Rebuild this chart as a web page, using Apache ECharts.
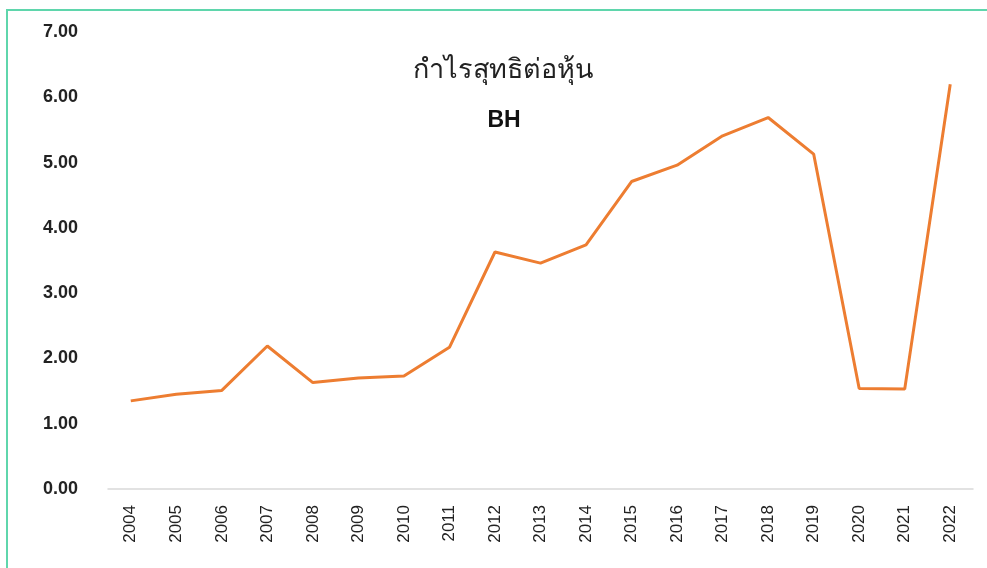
<!DOCTYPE html>
<html>
<head>
<meta charset="utf-8">
<script src="https://cdn.jsdelivr.net/npm/echarts@6/dist/echarts.min.js"></script>
<style>
  html, body { margin: 0; padding: 0; background: #fff; }
  .frame {
    position: absolute;
    left: 6px;
    top: 9px;
    width: 981px;
    height: 559px;
    border-left: 2px solid #5fd6ac;
    border-top: 2px solid #5fd6ac;
    box-sizing: border-box;
  }
  #chart { position: absolute; left: 0; top: 0; width: 987px; height: 568px; }
</style>
</head>
<body>
<div class="frame"></div>
<div id="chart"></div>
<script>
const years = ['2004', '2005', '2006', '2007', '2008', '2009', '2010', '2011', '2012', '2013',
  '2014', '2015', '2016', '2017', '2018', '2019', '2020', '2021', '2022']
const eps = [1.35, 1.45, 1.51, 2.19, 1.63, 1.70, 1.73, 2.17, 3.63, 3.46,
  3.74, 4.71, 4.96, 5.41, 5.69, 5.13, 1.54, 1.53, 6.20]
const titleText = 'กำไรสุทธิต่อหุ้น'
const subText = 'BH'

const chart = echarts.init(document.getElementById('chart'))
chart.setOption({
  animation: false,
  title: [
    {
      text: titleText,
      left: 498,
      textAlign: 'center',
      top: 52,
      textStyle: {
        fontFamily: 'Noto Sans, sans-serif',
        fontSize: 27,
        fontWeight: 'normal',
        color: '#222'
      }
    },
    {
      text: subText,
      left: 499,
      textAlign: 'center',
      top: 104,
      textStyle: {
        fontFamily: 'Liberation Sans, Arial, sans-serif',
        fontSize: 23,
        fontWeight: 'bold',
        color: '#111'
      }
    }
  ],
  grid: {
    left: 108,
    right: 14,
    top: 32,
    bottom: 79
  },
  xAxis: {
    type: 'category',
    data: years,
    boundaryGap: true,
    axisTick: { show: false },
    axisLine: { lineStyle: { color: '#d9d9d9', width: 1.5 } },
    axisLabel: {
      rotate: 90,
      margin: 16,
      fontFamily: 'Liberation Sans, Arial, sans-serif',
      fontSize: 17,
      color: '#222'
    }
  },
  yAxis: {
    type: 'value',
    min: 0,
    max: 7,
    interval: 1,
    axisLine: { show: false },
    axisTick: { show: false },
    splitLine: { show: false },
    axisLabel: {
      margin: 30,
      formatter: (v) => v.toFixed(2),
      fontFamily: 'Liberation Sans, Arial, sans-serif',
      fontSize: 18,
      fontWeight: 'bold',
      color: '#222'
    }
  },
  series: [
    {
      type: 'line',
      data: eps,
      symbol: 'none',
      lineStyle: { color: '#ed7d31', width: 3 }
    }
  ]
})
</script>
</body>
</html>
